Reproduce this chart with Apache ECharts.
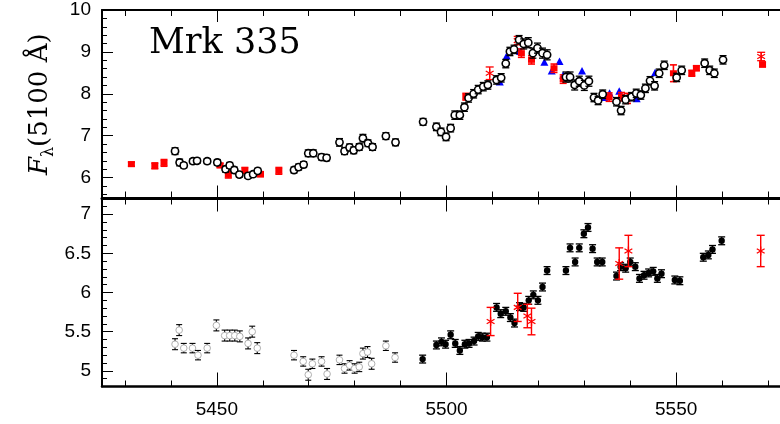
<!DOCTYPE html>
<html><head><meta charset="utf-8">
<script src="https://cdn.jsdelivr.net/npm/echarts@6/dist/echarts.min.js"></script>
<style>html,body{margin:0;padding:0;background:#fff}#c{width:780px;height:424px}</style>
</head><body><div id="c"></div>
<script>
// ---- tick labels ----
const xMajor = [5450, 5500, 5550];
const xMinor = [5430, 5440, 5460, 5470, 5480, 5490, 5510, 5520, 5530, 5540, 5560, 5570];
const topYMajor = [6, 7, 8, 9, 10];
const topYMinor = [5.6, 5.8, 6.2, 6.4, 6.6, 6.8, 7.2, 7.4, 7.6, 7.8, 8.2, 8.4, 8.6, 8.8, 9.2, 9.4, 9.6, 9.8];
const botYMajor = [5, 5.5, 6, 6.5, 7];
const botYMinor = [4.9, 5.1, 5.2, 5.3, 5.4, 5.6, 5.7, 5.8, 5.9, 6.1, 6.2, 6.3, 6.4, 6.6, 6.7, 6.8, 6.9, 7.1];

// ---- top panel: open circles ----
const topCircX = [5440.9,5441.9,5442.8,5444.8,5445.7,5447.9,5450.1,5451.9,5452.8,5453.8,5454.9,5456.8,5457.9,5458.9,
  5466.8,5467.8,5468.9,5469.9,5471.0,5472.8,5473.9,5476.7,5477.8,5478.9,5479.8,5481.0,5481.8,5482.9,5483.9,5486.8,5488.9,
  5494.9,5497.8,5498.8,5499.9,5500.9,5501.8,5502.9,5503.9,5504.8,5505.9,5506.9,5508.0,5509.0,5510.9,5511.9,5512.9,5513.8,
  5514.7,5515.8,5516.8,5517.8,5518.8,5519.8,5520.9,5521.9,5526.0,5526.9,5527.9,5528.9,5530.0,5531.0,5532.1,5533.0,5534.0,
  5537.0,5538.0,5539.0,5540.3,5541.3,5542.3,5543.3,5544.3,5545.3,5546.3,5547.4,5550.1,5551.2,5556.2,5557.3,5558.3,5560.2];
const topCircY = [6.63,6.36,6.29,6.39,6.40,6.39,6.36,6.20,6.29,6.18,6.07,6.04,6.08,6.16,
  6.18,6.25,6.31,6.58,6.58,6.49,6.47,6.84,6.63,6.72,6.65,6.73,6.94,6.82,6.73,6.99,6.84,
  7.33,7.21,7.09,6.97,7.18,7.49,7.49,7.68,7.90,8.00,8.10,8.17,8.21,8.33,8.38,8.72,9.01,
  9.06,9.29,9.19,9.22,8.97,9.09,8.97,8.93,8.40,8.40,8.21,8.30,8.20,8.30,7.91,7.84,7.99,
  7.81,7.60,7.86,7.93,8.01,7.97,8.13,8.31,8.19,8.49,8.68,8.39,8.56,8.73,8.56,8.49,8.81];
const topCircE = [0.08,0.08,0.06,0.06,0.06,0.06,0.07,0.07,0.07,0.07,0.06,0.06,0.06,0.06,
  0.07,0.07,0.07,0.08,0.08,0.07,0.07,0.09,0.08,0.08,0.08,0.08,0.09,0.08,0.08,0.08,0.08,
  0.08,0.09,0.09,0.09,0.09,0.1,0.1,0.1,0.1,0.1,0.1,0.1,0.1,0.1,0.1,0.1,0.1,
  0.1,0.1,0.12,0.12,0.12,0.12,0.12,0.12,0.12,0.12,0.12,0.12,0.12,0.12,0.1,0.1,0.1,
  0.1,0.1,0.1,0.1,0.1,0.1,0.1,0.1,0.1,0.1,0.1,0.1,0.1,0.1,0.1,0.1,0.1];

// ---- top panel: red squares ----
const topSqX = [5431.4,5436.5,5438.5,5450.7,5452.5,5456.1,5459.5,5463.5,5504.2,5516.3,5518.5,5523.4,5525.4,5535.4,5538.1,5539.4,5549.4,5553.4,5554.4,5568.8];
const topSqY = [6.32,6.28,6.35,6.29,6.07,6.17,6.08,6.16,7.93,8.97,8.81,8.61,8.35,7.92,7.93,7.89,8.49,8.49,8.61,8.70];
const topSqE = [0.05,0.07,0.08,0.05,0.08,0.07,0.06,0.08,0.08,0.1,0.1,0.1,0.1,0.1,0.1,0.12,0.2,0.07,0.06,0.06];

// ---- top panel: red asterisks ----
const topStX = [5509.4, 5515.5, 5568.5];
const topStY = [8.49, 9.27, 8.89];
const topStE = [0.15, 0.1, 0.1];

// ---- top panel: blue triangles ----
const topTriX = [5511.6,5513.1,5514.9,5516.0,5521.3,5522.9,5524.6,5525.4,5529.5,5534.3,5535.5,5537.6,5541.4,5545.4];
const topTriY = [8.27,8.89,9.03,9.00,8.74,8.53,8.76,8.43,8.53,7.90,8.00,8.05,7.87,8.49];
const topTriE = [0.05,0.05,0.05,0.05,0.05,0.05,0.05,0.05,0.05,0.05,0.05,0.05,0.05,0.05];

// ---- bottom panel: grey open circles ----
const botGrX = [5440.9,5441.8,5442.8,5444.7,5445.9,5447.9,5449.9,5451.7,5452.8,5453.9,5455.0,5456.8,5457.7,5458.8,
  5466.8,5468.8,5469.9,5470.8,5472.8,5474.0,5476.7,5477.8,5478.9,5480.0,5481.0,5481.8,5482.8,5483.7,5486.8,5488.8];
const botGrY = [5.34,5.52,5.29,5.29,5.20,5.29,5.58,5.45,5.45,5.45,5.44,5.35,5.50,5.29,
  5.20,5.12,4.95,5.09,5.12,4.96,5.14,5.03,5.07,5.03,5.05,5.22,5.24,5.09,5.32,5.17];
const botGrE = [0.07,0.07,0.06,0.06,0.06,0.06,0.07,0.07,0.07,0.07,0.07,0.07,0.07,0.07,
  0.06,0.06,0.07,0.06,0.06,0.07,0.06,0.06,0.06,0.06,0.06,0.07,0.07,0.07,0.06,0.06];

// ---- bottom panel: black filled circles ----
const botBkX = [5494.8,5497.8,5498.9,5499.8,5500.9,5501.9,5502.9,5504.0,5504.9,5506.0,5506.9,5507.8,5508.8,
  5510.9,5511.8,5512.9,5513.9,5514.8,5515.9,5516.8,5517.9,5518.9,5519.9,5520.9,5521.9,
  5526.0,5526.9,5528.0,5528.9,5529.9,5530.8,5531.8,5532.8,5533.9,
  5537.0,5537.9,5539.0,5540.0,5541.1,5542.0,5543.0,5544.0,5545.0,5545.9,5546.8,5549.7,5550.8,
  5555.9,5557.0,5557.9,5559.9];
const botBkY = [5.15,5.33,5.37,5.34,5.46,5.35,5.26,5.34,5.35,5.38,5.44,5.43,5.43,
  5.81,5.73,5.76,5.68,5.61,5.82,5.81,5.90,5.97,5.90,6.07,6.28,
  6.28,6.57,6.39,6.57,6.75,6.83,6.56,6.39,6.39,
  6.21,6.33,6.31,6.39,6.33,6.18,6.22,6.25,6.27,6.18,6.24,6.16,6.15,
  6.45,6.48,6.55,6.66];
const botBkE = [0.05,0.05,0.05,0.05,0.05,0.05,0.05,0.05,0.05,0.05,0.05,0.05,0.05,
  0.05,0.05,0.05,0.05,0.05,0.05,0.05,0.05,0.05,0.05,0.05,0.05,
  0.05,0.05,0.05,0.05,0.05,0.05,0.05,0.05,0.05,
  0.05,0.05,0.05,0.05,0.05,0.05,0.05,0.05,0.05,0.05,0.05,0.05,0.05,
  0.05,0.05,0.05,0.05];

// ---- bottom panel: red asterisks ----
const botStX = [5509.6, 5515.5, 5517.6, 5518.5, 5537.6, 5539.6, 5568.4];
const botStY = [5.63, 5.81, 5.70, 5.63, 6.37, 6.53, 6.53];
const botStE = [0.18, 0.18, 0.15, 0.17, 0.2, 0.2, 0.2];

function pack(xs, ys, es) { return xs.map((x, i) => [x, ys[i], es[i]]); }

function ln(x1, y1, x2, y2, color, lw) {
  return { type: 'line', shape: { x1: x1, y1: y1, x2: x2, y2: y2 }, style: { stroke: color, lineWidth: lw } };
}
function makeRender(kind, color, capW, lw) {
  return function (params, api) {
    const x = api.value(0), y = api.value(1), e = api.value(2);
    const p = api.coord([x, y]);
    const ch = [];
    if (e > 0 && kind !== 'tri') {
      const t = api.coord([x, y + e]), b = api.coord([x, y - e]);
      ch.push(ln(p[0], t[1], p[0], b[1], color, lw));
      ch.push(ln(p[0] - capW, t[1], p[0] + capW, t[1], color, lw));
      ch.push(ln(p[0] - capW, b[1], p[0] + capW, b[1], color, lw));
    }
    if (kind === 'open') {
      ch.push({ type: 'circle', shape: { cx: p[0], cy: p[1], r: 3.6 }, style: { fill: '#ffffff', stroke: '#000000', lineWidth: 1.6 } });
    } else if (kind === 'grey') {
      ch.push({ type: 'circle', shape: { cx: p[0], cy: p[1], r: 3.3 }, style: { fill: '#ffffff', stroke: '#b0b0b0', lineWidth: 1 } });
    } else if (kind === 'dot') {
      ch.push({ type: 'circle', shape: { cx: p[0], cy: p[1], r: 3.2 }, style: { fill: '#000000' } });
    } else if (kind === 'sq') {
      ch.push({ type: 'rect', shape: { x: p[0] - 3.5, y: p[1] - 3, width: 7, height: 6 }, style: { fill: color } });
    } else if (kind === 'tri') {
      ch.push({ type: 'polygon', shape: { points: [[p[0], p[1] - 4.5], [p[0] - 4, p[1] + 3], [p[0] + 4, p[1] + 3]] }, style: { fill: color } });
    } else if (kind === 'star') {
      const s = 4.5;
      ch.push(ln(p[0], p[1] - s, p[0], p[1] + s, color, 1.3));
      ch.push(ln(p[0] - s * 0.87, p[1] - s * 0.5, p[0] + s * 0.87, p[1] + s * 0.5, color, 1.3));
      ch.push(ln(p[0] - s * 0.87, p[1] + s * 0.5, p[0] + s * 0.87, p[1] - s * 0.5, color, 1.3));
    }
    return { type: 'group', children: ch };
  };
}

const XMIN = 5425, XMAX = 5572.6;
const lab = { fontFamily: 'Liberation Sans', fontSize: 19, color: '#000', formatter: v => String(v) };

function xAx(grid, pos, ticks, len, showLabel, lineW) {
  return {
    type: 'value', gridIndex: grid, position: pos, min: XMIN, max: XMAX,
    axisLine: { show: lineW > 0, onZero: false, lineStyle: { color: '#000', width: lineW || 1 } },
    axisTick: { show: true, inside: true, length: len, customValues: ticks },
    axisLabel: { show: showLabel, customValues: ticks, margin: 14, ...lab },
    splitLine: { show: false }
  };
}
function yAx(grid, min, max, ticks, len, showLabel, lineW, extra) {
  return Object.assign({
    type: 'value', gridIndex: grid, position: 'left', min: min, max: max,
    axisLine: { show: lineW > 0, onZero: false, lineStyle: { color: '#000', width: lineW || 1 } },
    axisTick: { show: true, inside: true, length: len, customValues: ticks },
    axisLabel: { show: showLabel, customValues: ticks, margin: 11, ...lab },
    splitLine: { show: false }
  }, extra || {});
}

const G_TOP = { left: 102, top: 10, width: 678, height: 188.5 };
const G_BOT = { left: 102, top: 198.5, width: 678, height: 188 };

const chart = echarts.init(document.getElementById('c'), null, { renderer: 'canvas' });
chart.setOption({
  animation: false,
  backgroundColor: '#fff',
  title: { text: 'Mrk 335', left: 149, top: 26, padding: 0,
    textStyle: { fontFamily: 'DejaVu Serif', fontSize: 35, fontWeight: 'normal', color: '#000' } },
  grid: [ G_TOP, Object.assign({}, G_TOP), G_BOT, Object.assign({}, G_BOT) ],
  xAxis: [
    xAx(0, 'bottom', xMajor, 13, false, 3),
    xAx(0, 'top', xMajor, 12, false, 2),
    xAx(1, 'bottom', xMinor, 7, false, 0),
    xAx(1, 'top', xMinor, 6, false, 0),
    xAx(2, 'bottom', xMajor, 14, true, 2.5),
    xAx(2, 'top', xMajor, 13, false, 0),
    xAx(3, 'bottom', xMinor, 6, false, 0),
    xAx(3, 'top', xMinor, 6, false, 0)
  ],
  yAxis: [
    yAx(0, 5.5, 10, topYMajor, 11, true, 2, {
      name: '{f|F}{s|λ}{n|(5100 Å)}', nameLocation: 'middle', nameRotate: 90, nameGap: 45,
      nameTextStyle: { fontFamily: 'DejaVu Serif', fontSize: 26, color: '#000',
        rich: { f: { fontStyle: 'italic', fontSize: 26 }, s: { fontSize: 16, verticalAlign: 'bottom', lineHeight: 34 }, n: { fontSize: 26 } } }
    }),
    yAx(1, 5.5, 10, topYMinor, 5, false, 0),
    yAx(2, 4.8, 7.2, botYMajor, 11, true, 2),
    yAx(3, 4.8, 7.2, botYMinor, 5, false, 0)
  ],
  series: [
    { type: 'custom', xAxisIndex: 0, yAxisIndex: 0, renderItem: makeRender('tri', '#0000ff', 3, 1.2), data: pack(topTriX, topTriY, topTriE) },
    { type: 'custom', xAxisIndex: 0, yAxisIndex: 0, renderItem: makeRender('sq', '#ff0000', 3.5, 1.6), data: pack(topSqX, topSqY, topSqE) },
    { type: 'custom', xAxisIndex: 0, yAxisIndex: 0, renderItem: makeRender('star', '#ff0000', 4, 1.3), data: pack(topStX, topStY, topStE) },
    { type: 'custom', xAxisIndex: 0, yAxisIndex: 0, renderItem: makeRender('open', '#000000', 3.5, 1.3), data: pack(topCircX, topCircY, topCircE) },
    { type: 'custom', xAxisIndex: 4, yAxisIndex: 2, renderItem: makeRender('grey', '#000000', 3, 1.1), data: pack(botGrX, botGrY, botGrE) },
    { type: 'custom', xAxisIndex: 4, yAxisIndex: 2, renderItem: makeRender('dot', '#000000', 3.5, 1.3), data: pack(botBkX, botBkY, botBkE) },
    { type: 'custom', xAxisIndex: 4, yAxisIndex: 2, renderItem: makeRender('star', '#ff0000', 4, 1.4), data: pack(botStX, botStY, botStE) }
  ]
});
</script>
</body></html>
